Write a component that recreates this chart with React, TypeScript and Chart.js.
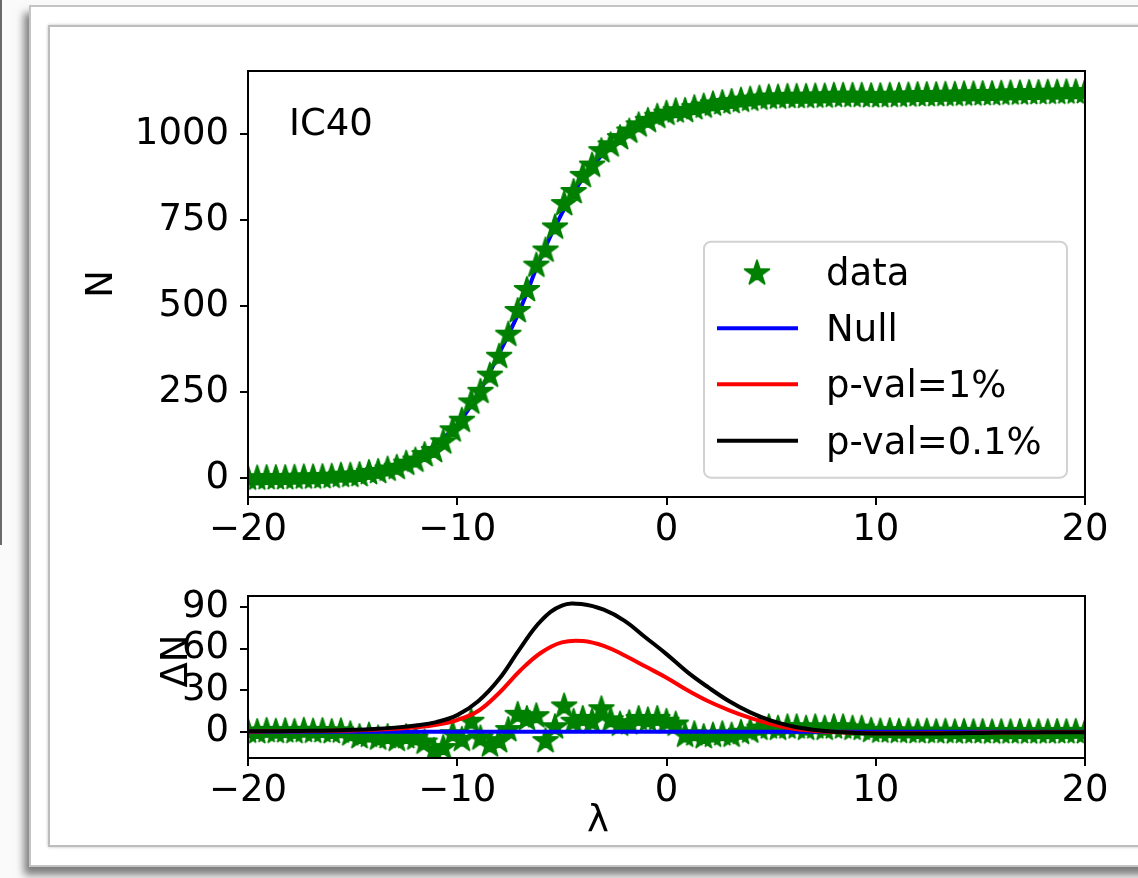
import React, { useEffect, useRef } from "react";
import { Chart, registerables } from "chart.js";

Chart.register(...registerables);

// ---------------- data ----------------
const X_DATA = [
  -20, -19.56, -19.11, -18.67, -18.22, -17.78, -17.33, -16.89, -16.44, -16,
  -15.56, -15.11, -14.67, -14.22, -13.78, -13.33, -12.89, -12.44, -12, -11.56,
  -11.11, -10.67, -10.22, -9.78, -9.33, -8.89, -8.44, -8, -7.56, -7.11,
  -6.67, -6.22, -5.78, -5.33, -4.89, -4.44, -4, -3.56, -3.11, -2.67,
  -2.22, -1.78, -1.33, -0.89, -0.44, 0, 0.44, 0.89, 1.33, 1.78,
  2.22, 2.67, 3.11, 3.56, 4, 4.44, 4.89, 5.33, 5.78, 6.22,
  6.67, 7.11, 7.56, 8, 8.44, 8.89, 9.33, 9.78, 10.22, 10.67,
  11.11, 11.56, 12, 12.44, 12.89, 13.33, 13.78, 14.22, 14.67, 15.11,
  15.56, 16, 16.44, 16.89, 17.33, 17.78, 18.22, 18.67, 19.11, 19.56, 20,
];

const N_DATA = [
  2, 2, 3, 3, 3, 4, 5, 5, 6, 7,
  10, 10, 12, 18, 21, 28, 33, 45, 54, 70,
  82, 107, 142, 170, 223, 254, 301, 356, 420, 489,
  550, 621, 665, 732, 800, 835, 882, 912, 954, 971,
  992, 1011, 1029, 1042, 1054, 1063, 1070, 1071, 1079, 1084,
  1090, 1094, 1097, 1101, 1104, 1107, 1110, 1110, 1112, 1112,
  1112, 1113, 1113, 1115, 1115, 1115, 1115, 1114, 1114, 1115,
  1115, 1116, 1117, 1117, 1117, 1118, 1118, 1119, 1119, 1120,
  1120, 1121, 1122, 1122, 1123, 1123, 1124, 1124, 1125, 1125, 1126,
];

const DN_DATA = [
  1.0, 0.6, 1.4, 0.8, 1.2, 0.7, 1.5, 0.9, 1.3, 0.6,
  1.1, -1, -3, -2, -4, -3, -5, -3, -4, -7,
  -13, -11, -1, -5, 8, -4, -9, -6, 2, 13,
  10, 12, -6, 4, 19, 8, 10, 8, 17, 9,
  6, 7, 10, 9, 10, 8, 6, -2, -1, -3,
  -2, -1, -2, 0, 1, 3, 4, 3, 4, 4,
  3, 4, 3, 4, 4, 3, 3, 1.5, 1, 1.2,
  0.8, 1, 0.6, 0.9, 0.5, 0.8, 0.4, 0.7, 0.5, 0.6,
  0.3, 0.5, 0.4, 0.6, 0.3, 0.5, 0.4, 0.6, 0.5, 0.7, 0.5,
];

const X_CURVE = [
  -20, -19, -18, -17, -16, -15, -14, -13, -12, -11,
  -10, -9, -8, -7, -6, -5, -4, -3, -2, -1,
  0, 1, 2, 3, 4, 5, 6, 7, 8, 9,
  10, 11, 12, 13, 14, 15, 16, 17, 18, 19, 20,
];

const N_NULL = [
  1, 1.5, 2.5, 4, 6, 11, 22, 36, 58, 100,
  155, 245, 362, 490, 643, 770, 872, 945, 997, 1030,
  1055, 1075, 1090, 1098, 1103, 1106, 1108, 1109, 1111, 1112,
  1113, 1114, 1116, 1117, 1118, 1119, 1121, 1122, 1123, 1124, 1125,
];

const DN_NULL = [
  0, 0, 0, 0, 0, 0, 0, 0, 0, 0,
  0, 0, 0, 0, 0, 0, 0, 0, 0, 0,
  0, 0, 0, 0, 0, 0, 0, 0, 0, 0,
  0, 0, 0, 0, 0, 0, 0, 0, 0, 0, 0,
];

const DN_P1 = [
  0.2, 0.3, 0.4, 0.5, 0.7, 1.0, 1.4, 2.1, 3.2, 5.0,
  8.5, 15, 28, 44, 57, 64.5, 65.5, 62, 55, 47,
  39, 30, 22, 15.5, 10, 5.5, 2.3, 0.8, -0.2, -0.7,
  -1.0, -1.0, -1.0, -0.9, -0.8, -0.6, -0.5, -0.4, -0.3, -0.2, -0.2,
];

const DN_P01 = [
  0.3, 0.4, 0.5, 0.7, 1.0, 1.4, 2.0, 3.0, 4.5, 7.0,
  12, 22, 38, 60, 80, 91, 92, 88, 80, 68,
  56, 43, 32, 22, 14, 8, 4, 1.5, 0, -0.8,
  -1.2, -1.3, -1.3, -1.2, -1.0, -0.8, -0.6, -0.5, -0.4, -0.3, -0.3,
];

const X_TICKS = [-20, -10, 0, 10, 20];
const N_TICKS = [0, 250, 500, 750, 1000];
const DN_TICKS = [0, 30, 60, 90];
const LEGEND_LABELS = ["data", "Null", "p-val=1%", "p-val=0.1%"];
const PANEL_LABEL = "IC40";
const Y_TITLE_TOP = "N";
const Y_TITLE_BOTTOM = "ΔN";
const X_TITLE = "λ";

// ---------------- style ----------------
const FONT = "'DejaVu Sans'";
const FS = 37;
const GREEN = "#008000";
const BLUE = "#0000ff";
const RED = "#ff0000";
const BLACK = "#000000";
const LW = 4;

const fmt = (v: number) => (v < 0 ? "\u2212" + Math.abs(v) : String(v));

function makeStar(R: number, color: string) {
  const size = Math.ceil(R * 2 + 6);
  const c = document.createElement("canvas");
  c.width = size;
  c.height = size;
  const ctx = c.getContext("2d")!;
  const cx = size / 2;
  const cy = size / 2 + 1;
  ctx.beginPath();
  for (let i = 0; i < 10; i++) {
    const r = i % 2 === 0 ? R : R * 0.381966;
    const a = -Math.PI / 2 + (i * Math.PI) / 5;
    const px = cx + r * Math.cos(a);
    const py = cy + r * Math.sin(a);
    if (i === 0) ctx.moveTo(px, py);
    else ctx.lineTo(px, py);
  }
  ctx.closePath();
  ctx.fillStyle = color;
  ctx.fill();
  ctx.lineJoin = "round";
  ctx.lineWidth = 1.8;
  ctx.strokeStyle = color;
  ctx.stroke();
  return c;
}

function xAxis(height: number) {
  return {
    type: "linear" as const,
    min: -20,
    max: 20,
    bounds: "data" as const,
    afterBuildTicks: (s: any) => {
      s.ticks = X_TICKS.map((v) => ({ value: v }));
    },
    afterFit: (s: any) => {
      s.height = height;
      s.paddingLeft = 0;
      s.paddingRight = 0;
    },
    grid: { drawOnChartArea: false, drawTicks: true, tickLength: 8, color: "#000", lineWidth: 2 },
    border: { display: false },
    ticks: {
      color: "#000",
      font: { family: FONT, size: FS },
      padding: 3,
      maxRotation: 0,
      autoSkip: false,
      callback: (v: any) => fmt(Number(v)),
    },
  };
}

function yAxis(min: number, max: number, ticks: number[]) {
  return {
    type: "linear" as const,
    min,
    max,
    bounds: "data" as const,
    afterBuildTicks: (s: any) => {
      s.ticks = ticks.map((v) => ({ value: v }));
    },
    afterFit: (s: any) => {
      s.width = 188;
      s.paddingTop = 0;
      s.paddingBottom = 0;
    },
    grid: { drawOnChartArea: false, drawTicks: true, tickLength: 8, color: "#000", lineWidth: 2 },
    border: { display: false },
    ticks: {
      color: "#000",
      font: { family: FONT, size: FS },
      padding: 11,
      autoSkip: false,
      callback: (v: any) => fmt(Number(v)),
    },
  };
}

function pts(xs: number[], ys: number[]) {
  return xs.map((x, i) => ({ x, y: ys[i] }));
}

export default function App() {
  const topRef = useRef<HTMLCanvasElement>(null);
  const botRef = useRef<HTMLCanvasElement>(null);

  useEffect(() => {
    const star = makeStar(13, GREEN);

    const topDeco = {
      id: "topDeco",
      afterDatasetsDraw(chart: any) {
        const { ctx, chartArea: a } = chart;
        ctx.save();
        ctx.strokeStyle = "#000";
        ctx.lineWidth = 2;
        ctx.strokeRect(a.left, a.top, a.right - a.left, a.bottom - a.top);

        ctx.fillStyle = "#000";
        ctx.font = `${FS}px ${FONT}`;
        ctx.textAlign = "left";
        ctx.textBaseline = "alphabetic";
        ctx.fillText(PANEL_LABEL, a.left + 41, a.top + 64);

        // y title
        ctx.save();
        ctx.translate(42, (a.top + a.bottom) / 2);
        ctx.rotate(-Math.PI / 2);
        ctx.textAlign = "center";
        ctx.textBaseline = "middle";
        ctx.fillText(Y_TITLE_TOP, 0, 0);
        ctx.restore();

        // legend
        const bx = a.left + 456;
        const by = a.top + 170.7;
        const bw = 363;
        const bh = 236;
        ctx.beginPath();
        ctx.roundRect(bx, by, bw, bh, 7);
        ctx.fillStyle = "rgba(255,255,255,0.8)";
        ctx.fill();
        ctx.strokeStyle = "#d2d2d2";
        ctx.lineWidth = 2;
        ctx.stroke();

        const rows = [a.top + 201.3, a.top + 257.3, a.top + 313.3, a.top + 369.7];
        const colors = [GREEN, BLUE, RED, BLACK];
        LEGEND_LABELS.forEach((lab, i) => {
          const y = rows[i];
          if (i === 0) {
            ctx.drawImage(star, a.left + 509 - star.width / 2, y - star.height / 2);
          } else {
            ctx.beginPath();
            ctx.moveTo(a.left + 469, y);
            ctx.lineTo(a.left + 550, y);
            ctx.strokeStyle = colors[i];
            ctx.lineWidth = LW;
            ctx.stroke();
          }
          ctx.fillStyle = "#000";
          ctx.textAlign = "left";
          ctx.textBaseline = "alphabetic";
          ctx.fillText(lab, a.left + 578, y + 13);
        });
        ctx.restore();
      },
    };

    const botDeco = {
      id: "botDeco",
      afterDatasetsDraw(chart: any) {
        const { ctx, chartArea: a } = chart;
        ctx.save();
        ctx.strokeStyle = "#000";
        ctx.lineWidth = 2;
        ctx.strokeRect(a.left, a.top, a.right - a.left, a.bottom - a.top);
        ctx.fillStyle = "#000";
        ctx.font = `${FS}px ${FONT}`;

        ctx.save();
        ctx.translate(117, 91);
        ctx.rotate(-Math.PI / 2);
        ctx.textAlign = "center";
        ctx.textBaseline = "middle";
        ctx.fillText(Y_TITLE_BOTTOM, 0, 0);
        ctx.restore();

        ctx.textAlign = "center";
        ctx.textBaseline = "alphabetic";
        ctx.fillText(X_TITLE, 538, 262);
        ctx.restore();
      },
    };

    const common = {
      animation: false as const,
      responsive: false,
      maintainAspectRatio: false,
      events: [] as any[],
      plugins: { legend: { display: false }, tooltip: { enabled: false } },
    };

    const top = new Chart(topRef.current!, {
      type: "scatter",
      data: {
        datasets: [
          {
            label: LEGEND_LABELS[0],
            data: pts(X_DATA, N_DATA),
            pointStyle: star as any,
            pointRadius: 12,
            showLine: false,
            order: 1,
            clip: 0,
          },
          {
            label: LEGEND_LABELS[1],
            data: pts(X_CURVE, N_NULL),
            borderColor: BLUE,
            backgroundColor: BLUE,
            borderWidth: LW,
            pointRadius: 0,
            showLine: true,
            cubicInterpolationMode: "monotone",
            order: 2,
            clip: 0,
          },
        ],
      },
      options: {
        ...common,
        layout: { padding: { top: 31, right: 45, bottom: 0, left: 0 } },
        scales: { x: xAxis(63), y: yAxis(-55, 1184, N_TICKS) },
      } as any,
      plugins: [topDeco],
    });

    const bot = new Chart(botRef.current!, {
      type: "scatter",
      data: {
        datasets: [
          {
            label: LEGEND_LABELS[0],
            data: pts(X_DATA, DN_DATA),
            pointStyle: star as any,
            pointRadius: 12,
            showLine: false,
            order: 4,
            clip: 0,
          },
          {
            label: LEGEND_LABELS[1],
            data: pts(X_CURVE, DN_NULL),
            borderColor: BLUE,
            borderWidth: LW,
            pointRadius: 0,
            showLine: true,
            order: 3,
            clip: 0,
          },
          {
            label: LEGEND_LABELS[2],
            data: pts(X_CURVE, DN_P1),
            borderColor: RED,
            borderWidth: LW,
            pointRadius: 0,
            showLine: true,
            tension: 0.4,
            order: 2,
            clip: 0,
          },
          {
            label: LEGEND_LABELS[3],
            data: pts(X_CURVE, DN_P01),
            borderColor: BLACK,
            borderWidth: LW,
            pointRadius: 0,
            showLine: true,
            tension: 0.4,
            order: 1,
            clip: 0,
          },
        ],
      },
      options: {
        ...common,
        layout: { padding: { top: 26, right: 45, bottom: 0, left: 0 } },
        scales: { x: xAxis(102), y: yAxis(-18.9, 97.9, DN_TICKS) },
      } as any,
      plugins: [botDeco],
    });

    return () => {
      top.destroy();
      bot.destroy();
    };
  }, []);

  return (
    <div
      style={{
        position: "fixed",
        left: 0,
        top: 0,
        width: 1138,
        height: 878,
        background: "#fafafa",
        overflow: "hidden",
      }}
    >
      <div style={{ position: "absolute", left: 0, top: 0, width: 2, height: 545, background: "#6a6a6a" }} />
      <div
        style={{
          position: "absolute",
          left: 29,
          top: 5,
          width: 1200,
          height: 858,
          border: "2px solid #c4c4c4",
          background: "#ffffff",
          boxShadow: "-5px 8px 8px rgba(0,0,0,0.5)",
        }}
      />
      <div
        style={{
          position: "absolute",
          left: 48,
          top: 25,
          width: 1200,
          height: 818,
          border: "2px solid #bdbdbd",
          boxShadow: "0 0 3px rgba(0,0,0,0.25)",
        }}
      />
      <canvas
        ref={topRef}
        width={1070}
        height={520}
        style={{ position: "absolute", left: 60, top: 40, width: 1070, height: 520 }}
      />
      <canvas
        ref={botRef}
        width={1070}
        height={290}
        style={{ position: "absolute", left: 60, top: 570, width: 1070, height: 290 }}
      />
    </div>
  );
}
